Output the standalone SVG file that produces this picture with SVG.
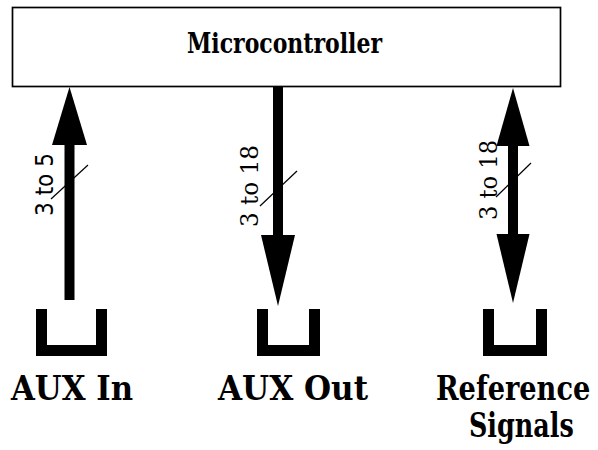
<svg xmlns="http://www.w3.org/2000/svg" width="598" height="450" viewBox="0 0 598 450">
<style>
.box{fill:#fff;stroke:#000;stroke-width:1.7}
.serif{font-family:"DejaVu Serif","Liberation Serif",serif}
.sans{font-family:"DejaVu Sans","Liberation Sans",sans-serif}
.title{font-weight:bold;font-size:27px;fill:#000}
.port{fill:none;stroke:#000;stroke-width:11;stroke-linejoin:miter;stroke-linecap:butt}
.lbl{font-weight:bold;font-size:34px;fill:#000}
.arrow{fill:#000}
.tick{stroke:#000;stroke-width:1.2}
.bus{font-size:25px;fill:#000}
</style>
<rect width="598" height="450" fill="#fff"/>
<g id="microcontroller">
<rect class="box" x="12.5" y="7.5" width="548" height="79"/>
<text class="serif title" x="187" y="53" textLength="195" lengthAdjust="spacingAndGlyphs">Microcontroller</text>
</g>
<g id="aux-in">
<path class="port" d="M41.5,309 V350.5 H101.5 V309"/>
<text class="serif lbl" x="11" y="400" textLength="122" lengthAdjust="spacingAndGlyphs">AUX In</text>
</g>
<g id="aux-out">
<path class="port" d="M262.5,309 V350.5 H314.5 V309"/>
<text class="serif lbl" x="218" y="400" textLength="150" lengthAdjust="spacingAndGlyphs">AUX Out</text>
</g>
<g id="reference-signals">
<path class="port" d="M488.5,309 V350.5 H541.5 V309"/>
<text class="serif lbl" transform="translate(436,400) scale(0.76,1)" textLength="203" lengthAdjust="spacingAndGlyphs">Reference</text>
<text class="serif lbl" transform="translate(469,437) scale(0.8,1)" textLength="131" lengthAdjust="spacingAndGlyphs">Signals</text>
</g>
<g id="connectors">
<rect class="arrow" x="64.5" y="144" width="10" height="156"/>
<polygon class="arrow" points="52,145 87,145 69.5,87"/>
<line class="tick" x1="51" y1="199" x2="88" y2="165"/>
<text class="sans bus" transform="translate(53,216) rotate(-90)" textLength="63" lengthAdjust="spacingAndGlyphs">3 to 5</text>
<rect class="arrow" x="273" y="87" width="10" height="149"/>
<polygon class="arrow" points="261,235 295,235 278,306"/>
<line class="tick" x1="260" y1="206" x2="297" y2="171"/>
<text class="serif bus" transform="translate(258,227) rotate(-90)" textLength="82" lengthAdjust="spacingAndGlyphs">3 to 18</text>
<rect class="arrow" x="508" y="145" width="10" height="90"/>
<polygon class="arrow" points="496.5,146 529.5,146 513,88"/>
<polygon class="arrow" points="496.5,234 529.5,234 513,303"/>
<line class="tick" x1="496" y1="197" x2="531" y2="163"/>
<text class="serif bus" transform="translate(497,220) rotate(-90)" textLength="80" lengthAdjust="spacingAndGlyphs">3 to 18</text>
</g>
</svg>
